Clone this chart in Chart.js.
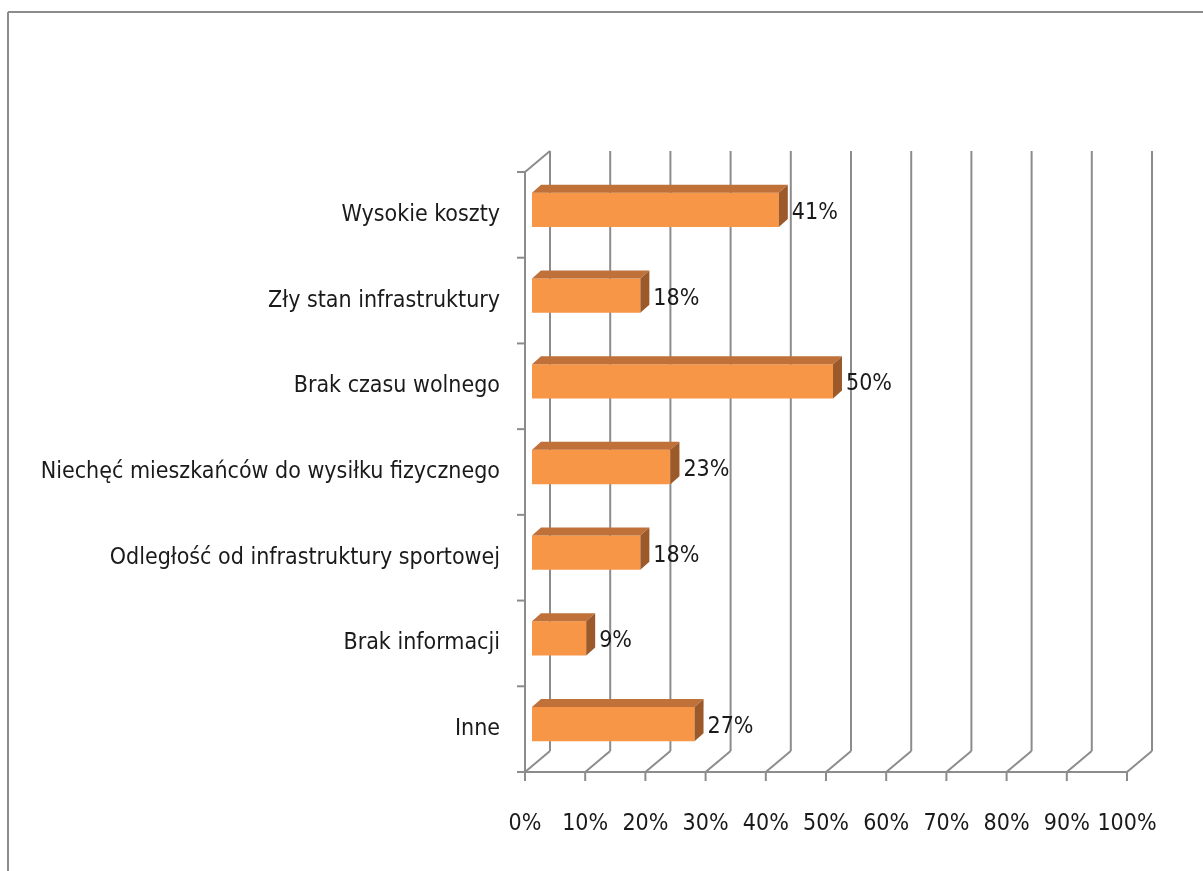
<!DOCTYPE html>
<html>
<head>
<meta charset="utf-8">
<script src="https://cdn.jsdelivr.net/npm/chart.js@4.4.1/dist/chart.umd.min.js"></script>
<style>
    html, body { margin: 0; padding: 0; background: #fff; overflow: hidden; }
    canvas { display: block; }
</style>
</head>
<body>
<canvas id="barriers" width="1203" height="871"></canvas>
<script>
const categories = [
    'Wysokie koszty',
    'Zły stan infrastruktury',
    'Brak czasu wolnego',
    'Niechęć mieszkańców do wysiłku fizycznego',
    'Odległość od infrastruktury sportowej',
    'Brak informacji',
    'Inne'
]
const shares = [41, 18, 50, 23, 18, 9, 27]
const axisTicks = [0, 10, 20, 30, 40, 50, 60, 70, 80, 90, 100]

const fontFamily = "'Liberation Sans Narrow', 'DejaVu Sans Condensed', sans-serif"
const fontSize = 23
const gridColor = '#8c8c8c'
const depth = { x: 25, y: -21 }      // back wall offset
const barShift = { x: 7, y: -5 }     // bars sit a bit behind the front plane
const barDepth = { x: 9, y: -8 }     // top / side face of each bar

const line = (ctx, x1, y1, x2, y2) => {
    ctx.beginPath()
    ctx.moveTo(x1, y1)
    ctx.lineTo(x2, y2)
    ctx.stroke()
}

// frame, floor, back wall and left wall
const box3d = {
    id: 'box3d',
    beforeDatasetsDraw(chart) {
        const { ctx, chartArea: a, scales: { x } } = chart
        ctx.save()
        ctx.strokeStyle = gridColor
        ctx.lineWidth = 2

        // outer frame (left and top only, the rest is cropped)
        line(ctx, 8, 12, 8, chart.height)
        line(ctx, 8, 12, chart.width, 12)

        axisTicks.forEach((v) => {
            const px = x.getPixelForValue(v)
            line(ctx, px + depth.x, a.top + depth.y, px + depth.x, a.bottom + depth.y)
            line(ctx, px, a.bottom, px + depth.x, a.bottom + depth.y)
            line(ctx, px, a.bottom, px, a.bottom + 9)
        })
        line(ctx, a.left - 8, a.bottom, a.right, a.bottom)
        line(ctx, a.left, a.top, a.left, a.bottom)
        line(ctx, a.left, a.top, a.left + depth.x, a.top + depth.y)

        const step = (a.bottom - a.top) / categories.length
        for (let i = 0; i <= categories.length; i++) {
            const py = a.top + i * step
            line(ctx, a.left - 8, py, a.left, py)
        }
        ctx.restore()

        ctx.save()
        ctx.translate(barShift.x, barShift.y)
    },
    afterDatasetsDraw(chart) {
        const { ctx } = chart
        chart.getDatasetMeta(0).data.forEach((bar, i) => {
            const h = bar.height / 2
            const x0 = bar.base
            const x1 = bar.x
            const top = bar.y - h
            const bottom = bar.y + h

            ctx.fillStyle = '#c0713a'
            ctx.beginPath()
            ctx.moveTo(x0, top)
            ctx.lineTo(x0 + barDepth.x, top + barDepth.y)
            ctx.lineTo(x1 + barDepth.x, top + barDepth.y)
            ctx.lineTo(x1, top)
            ctx.closePath()
            ctx.fill()

            ctx.fillStyle = '#9c5a2a'
            ctx.beginPath()
            ctx.moveTo(x1, top)
            ctx.lineTo(x1 + barDepth.x, top + barDepth.y)
            ctx.lineTo(x1 + barDepth.x, bottom + barDepth.y)
            ctx.lineTo(x1, bottom)
            ctx.closePath()
            ctx.fill()

            ctx.fillStyle = '#1a1a1a'
            ctx.font = fontSize + 'px ' + fontFamily
            ctx.textAlign = 'left'
            ctx.textBaseline = 'middle'
            ctx.fillText(shares[i] + '%', x1 + barDepth.x + 4, bar.y + 3)
        })
        ctx.restore()
    }
}

const barriers = document.getElementById('barriers').getContext('2d')

const barriersChart = new Chart(barriers, {
    type: 'bar',
    data: {
        labels: categories,
        datasets: [{
            data: shares,
            backgroundColor: '#f79646',
            borderWidth: 0,
            categoryPercentage: 1,
            barPercentage: 0.4
        }]
    },
    options: {
        indexAxis: 'y',
        responsive: false,
        animation: false,
        events: [],
        layout: {
            padding: { top: 172, right: 76, bottom: 0, left: 0 }
        },
        plugins: {
            legend: { display: false },
            tooltip: { enabled: false }
        },
        scales: {
            x: {
                min: 0,
                max: 100,
                afterBuildTicks: (scale) => {
                    scale.ticks = axisTicks.map((v) => ({ value: v }))
                },
                afterFit: (scale) => { scale.height = 99 },
                grid: { display: false, drawTicks: false },
                border: { display: false },
                ticks: {
                    padding: 38,
                    maxRotation: 0,
                    autoSkip: false,
                    color: '#1a1a1a',
                    font: { family: fontFamily, size: fontSize },
                    callback: (v) => v + '%'
                }
            },
            y: {
                afterFit: (scale) => { scale.width = 525 },
                grid: { display: false, drawTicks: false },
                border: { display: false },
                ticks: {
                    padding: 25,
                    autoSkip: false,
                    color: '#1a1a1a',
                    font: { family: fontFamily, size: fontSize }
                }
            }
        }
    },
    plugins: [box3d]
})
</script>
</body>
</html>
